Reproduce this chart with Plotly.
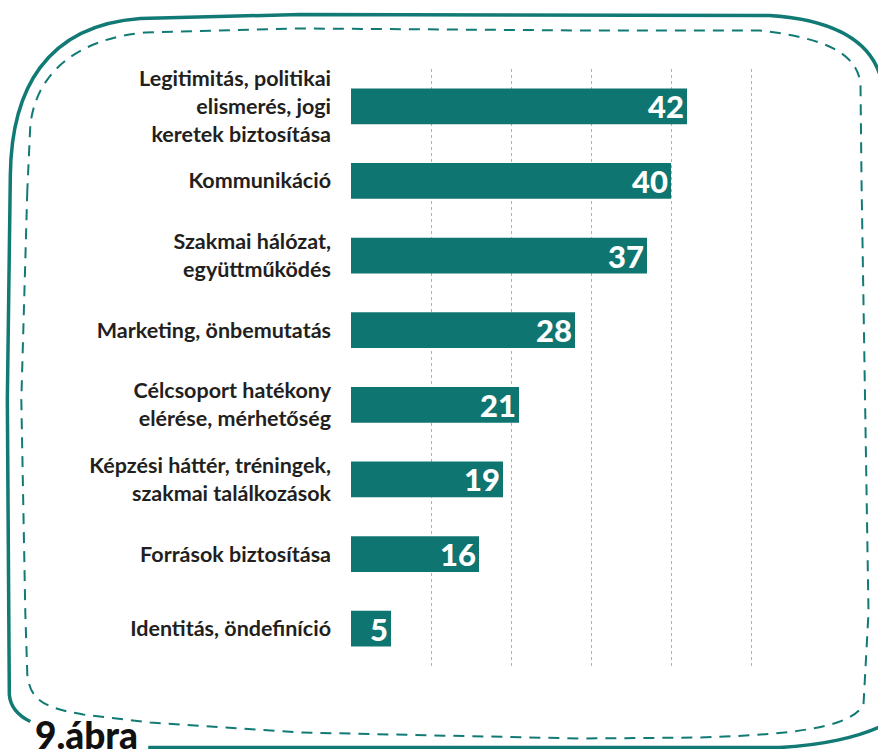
import plotly.graph_objects as go

# ---- data ----
categories = [
    "Legitimitás, politikai<br>elismerés, jogi<br>keretek biztosítása",
    "Kommunikáció",
    "Szakmai hálózat,<br>együttműködés",
    "Marketing, önbemutatás",
    "Célcsoport hatékony<br>elérése, mérhetőség",
    "Képzési háttér, tréningek,<br>szakmai találkozások",
    "Források biztosítása",
    "Identitás, öndefiníció",
]
values = [42, 40, 37, 28, 21, 19, 16, 5]
grid_ticks = [10, 20, 30, 40, 50]
figure_label = "9.ábra"

# ---- layout geometry (pixels) ----
W, H = 878, 749
L, R, T, B = 351, 110.6, 68.6, 82.6
PW, PH = W - L - R, H - T - B

TEAL = "#0f7570"
BORDER = "#127a75"


def P(x, y):
    return f"{(x - L) / PW:.5f},{(H - B - y) / PH:.5f}"


fig = go.Figure(
    go.Bar(
        x=values,
        y=categories,
        orientation="h",
        marker=dict(color=TEAL, line=dict(width=0)),
        text=[str(v) for v in values],
        textposition="inside",
        insidetextanchor="end",
        textangle=0,
        constraintext="none",
        textfont=dict(family="Lato", size=31, color="white", weight=900),
        cliponaxis=False,
        hoverinfo="skip",
    )
)

# decorative border: outer solid line
outer_top = (
    "M " + P(30, 722)
    + " C " + P(18, 716) + " " + P(10, 708) + " " + P(9, 695)
    + " L " + P(7, 400)
    + " L " + P(10, 175)
    + " C " + P(11, 90) + " " + P(45, 25) + " " + P(140, 18)
    + " L " + P(300, 14)
    + " L " + P(770, 15)
    + " C " + P(830, 19) + " " + P(872, 38) + " " + P(882, 80)
    + " L " + P(884, 700)
)
outer_bottom = (
    "M " + P(148, 748)
    + " L " + P(780, 748)
    + " C " + P(820, 746) + " " + P(860, 738) + " " + P(885, 725)
)
dashed = (
    "M " + P(27, 190)
    + " L " + P(21, 400)
    + " L " + P(25, 613)
    + " L " + P(27, 675)
    + " C " + P(30, 700) + " " + P(42, 708) + " " + P(83, 715)
    + " L " + P(150, 723)
    + " L " + P(300, 733)
    + " L " + P(580, 739)
    + " L " + P(700, 738)
    + " C " + P(800, 735) + " " + P(852, 727) + " " + P(864, 705)
    + " L " + P(869, 613)
    + " L " + P(862, 180)
    + " L " + P(861, 85)
    + " C " + P(859, 55) + " " + P(830, 38) + " " + P(760, 30)
    + " L " + P(580, 30)
    + " L " + P(300, 28)
    + " L " + P(145, 32)
    + " C " + P(80, 38) + " " + P(36, 70) + " " + P(30, 125)
    + " Z"
)

shapes = [
    dict(type="path", xref="paper", yref="paper", path=outer_top,
         line=dict(color=BORDER, width=3.5), layer="below"),
    dict(type="path", xref="paper", yref="paper", path=outer_bottom,
         line=dict(color=BORDER, width=3.5), layer="below"),
    dict(type="path", xref="paper", yref="paper", path=dashed,
         line=dict(color=BORDER, width=2, dash="11px,8px"), layer="below"),
]

fig.update_layout(
    width=W,
    height=H,
    margin=dict(l=L, r=R, t=T, b=B, autoexpand=False),
    paper_bgcolor="white",
    plot_bgcolor="white",
    showlegend=False,
    bargap=0.52,
    shapes=shapes,
    font=dict(family="Lato", color="#231f20"),
    annotations=[
        dict(
            text=figure_label,
            xref="paper", yref="paper",
            x=(33 - L) / PW, y=(H - B - 760) / PH,
            xanchor="left", yanchor="bottom",
            showarrow=False,
            font=dict(family="Lato", size=37, color="#111111", weight=900),
        )
    ],
)

fig.update_xaxes(
    range=[0, 52],
    tickvals=grid_ticks,
    showticklabels=False,
    showgrid=True,
    gridcolor="#86c0c8",
    griddash="dot",
    gridwidth=1,
    zeroline=False,
    showline=False,
    ticks="",
)
fig.update_yaxes(
    autorange="reversed",
    showgrid=False,
    zeroline=False,
    showline=False,
    ticks="",
    ticklabelstandoff=19,
    tickfont=dict(family="Lato", size=21.5, color="#231f20", weight=700),
)

fig.write_html(
    "out.html",
    config={"displayModeBar": False},
    post_script="document.body.style.margin='0';document.body.style.overflow='hidden';",
)
